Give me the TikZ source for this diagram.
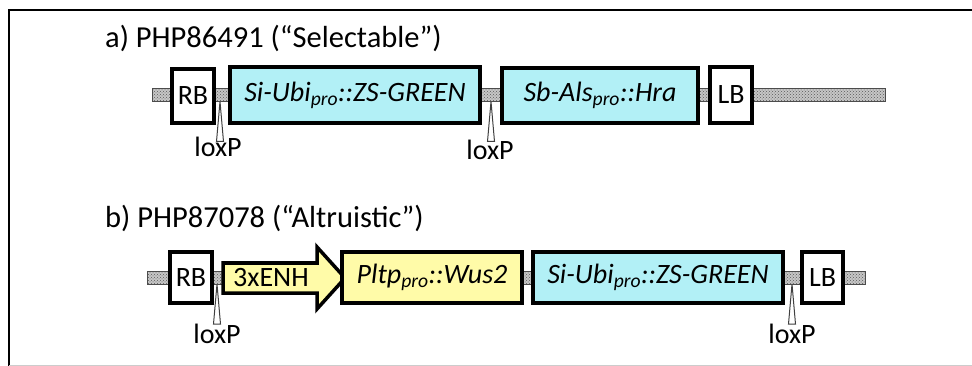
\documentclass[tikz,border=0pt]{standalone}
\usepackage{fontspec}
\setmainfont{Carlito}
\usetikzlibrary{patterns}
\definecolor{cyanfill}{RGB}{178,240,246}
\definecolor{yelfill}{RGB}{255,251,168}
\begin{document}
\begin{tikzpicture}[x=1pt,y=-1pt,
  every node/.style={font=\fontsize{28}{30}\selectfont, inner sep=0pt},
  gene/.style={draw=black, line width=3.5pt, rectangle},
  border/.style={gene, fill=white, minimum width=42pt},
  cds/.style={gene, font=\fontsize{28}{30}\selectfont\itshape},
  backbone/.style={draw=gray!60!black, line width=0.6pt},
  loxtri/.style={draw=black!75, fill=white, line width=1pt},
  title/.style={anchor=base west, font=\fontsize{30.5}{32}\selectfont}
]
\useasboundingbox (0,0) rectangle (972,366);
% frame
\draw[line width=2.5pt] (9,366) -- (9,10) -- (972,10);
\draw[gray!40, line width=1pt] (9,365.5) -- (972,365.5);

% titles
\node[title] (ta) at (105,48) {a) PHP86491 (“Selectable”)};
\node[title] (tb) at (105,228) {b) PHP87078 (“Altruistic”)};

% ---- row a ----
\fill[gray!45] (152,88.5) rectangle (885,101.5);
\fill[pattern=crosshatch dots, pattern color=black!65] (152,88.5) rectangle (885,101.5);
\draw[backbone] (152,88.5) rectangle (885,101.5);
\node[border, minimum height=54pt] (rba) at (193,96) {RB};
\node[cds, fill=cyanfill, minimum width=250pt, minimum height=56pt] (zsa) at (355,95) {Si-Ubi\textsubscript{pro}::ZS-GREEN};
\node[cds, fill=cyanfill, minimum width=196pt, minimum height=55pt] (hra) at (600,95.5) {Sb-Als\textsubscript{pro}::Hra};
\node[border, minimum height=56pt] (lba) at (731,95) {LB};
% loxP a
\coordinate (la1) at (220,101.5);
\coordinate (la2) at (491,101.5);
\draw[loxtri] (la1) -- ++(-3.5,40) -- ++(7,0) -- cycle;
\draw[loxtri] (la2) -- ++(-3.5,40) -- ++(7,0) -- cycle;
\node[anchor=base] (lxa1) at (218,157) {loxP};
\node[anchor=base] (lxa2) at (490,160) {loxP};

% ---- row b ----
\fill[gray!45] (147,271) rectangle (865,284);
\fill[pattern=crosshatch dots, pattern color=black!65] (147,271) rectangle (865,284);
\draw[backbone] (147,271) rectangle (865,284);
\node[border, minimum height=51pt] (rbb) at (191,277.5) {RB};
\draw[line width=3.5pt, line join=miter, fill=yelfill]
  (223,263) -- (317,263) -- (317,247) -- (345,278) -- (317,309) -- (317,293) -- (223,293) -- cycle;
\node (enh) at (271,278) {3xENH};
\node[cds, fill=yelfill, minimum width=180pt, minimum height=51pt] (wus) at (432,277.5) {Pltp\textsubscript{pro}::Wus2};
\node[cds, fill=cyanfill, minimum width=250pt, minimum height=51pt] (zsb) at (658,277.5) {Si-Ubi\textsubscript{pro}::ZS-GREEN};
\node[border, minimum height=51pt, minimum width=41pt] (lbb) at (822.5,277.5) {LB};
% loxP b
\coordinate (lb1) at (217,284);
\coordinate (lb2) at (792,284);
\draw[loxtri] (lb1) -- ++(-3.5,40) -- ++(7,0) -- cycle;
\draw[loxtri] (lb2) -- ++(-3.5,40) -- ++(7,0) -- cycle;
\node[anchor=base] (lxb1) at (217,343) {loxP};
\node[anchor=base] (lxb2) at (792,343) {loxP};
\end{tikzpicture}
\end{document}
